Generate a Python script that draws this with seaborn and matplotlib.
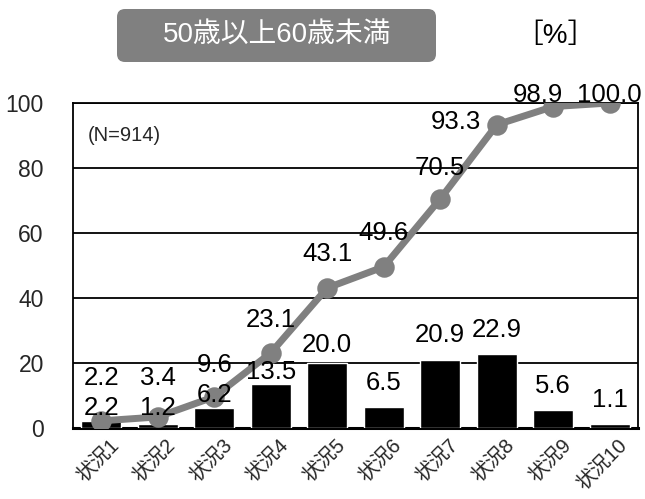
import numpy as np
import pandas as pd
import seaborn as sns
import matplotlib.pyplot as plt
from matplotlib.patches import FancyBboxPatch
from matplotlib.transforms import IdentityTransform, ScaledTranslation

# data
categories = ["状況1", "状況2", "状況3", "状況4", "状況5",
              "状況6", "状況7", "状況8", "状況9", "状況10"]
share = [2.2, 1.2, 6.2, 13.5, 20.0, 6.5, 20.9, 22.9, 5.6, 1.1]
cumulative = [2.2, 3.4, 9.6, 23.1, 43.1, 49.6, 70.5, 93.3, 98.9, 100.0]
title = "50歳以上60歳未満"
unit = "［%］"
n_note = "(N=914)"

# label offsets in pixels (dx, dy) - placed by hand in the original
bar_off = [(0, 13), (0, 16), (0, 13), (0, 12), (0, 18),
           (0, 24), (0, 25), (0, 24), (0, 24), (0, 24)]
cum_off = [(0, 43), (0, 39), (0, 32), (0, 33), (0, 34),
           (0, 34), (0, 31), (-41, 3), (-15, 12), (0, 8)]

sns.set_style("white")
plt.rcParams['font.family'] = ['Liberation Sans', 'Noto Sans CJK JP']

df = pd.DataFrame({"cat": categories, "share": share, "cum": cumulative})

fig = plt.figure(figsize=(6.45, 4.99), dpi=100)
ax = fig.add_axes([73/645, 1 - 428/499, 565/645, 325/499])

sns.barplot(data=df, x="cat", y="share", color="black", width=0.7,
            saturation=1, ax=ax, zorder=3)
sns.pointplot(data=df, x="cat", y="cum", color="#808080", markers="o",
              linewidth=5, markersize=11, ax=ax, zorder=4)

ax.set_ylim(0, 100)
ax.set_xlim(-0.5, len(categories) - 0.5)
ax.set_yticks(range(0, 101, 20))
ax.yaxis.grid(True, color="black", linewidth=1.3, zorder=0)
ax.set_axisbelow(True)
ax.set_xlabel("")
ax.set_ylabel("")
ax.tick_params(axis="y", length=0, labelsize=16.5, pad=21)
ax.tick_params(axis="x", length=0, labelsize=14.5, pad=2)
for s in ["left", "right", "top"]:
    ax.spines[s].set_visible(True)
    ax.spines[s].set_color("black")
    ax.spines[s].set_linewidth(1.3)
ax.spines["bottom"].set_color("black")
ax.spines["bottom"].set_linewidth(2.2)

for lab in ax.get_xticklabels():
    lab.set_rotation(45)
    lab.set_ha("right")
    lab.set_rotation_mode("anchor")
    lab.set_transform(lab.get_transform() + ScaledTranslation(8/100, -5/100, fig.dpi_scale_trans))

for i, v in enumerate(share):
    ax.annotate(f"{v:.1f}", (i, v), xytext=bar_off[i], textcoords="offset pixels",
                ha="center", va="center", fontsize=18.5, color="black", zorder=6)
for i, v in enumerate(cumulative):
    ax.annotate(f"{v:.1f}", (i, v), xytext=cum_off[i], textcoords="offset pixels",
                ha="center", va="center", fontsize=18.5, color="black", zorder=6,
                annotation_clip=False)

ax.text(15/565, 0.9, n_note, transform=ax.transAxes,
        fontsize=14.5, ha="left", va="center")

# title box
box = FancyBboxPatch((117, 499 - 62), 319, 53, boxstyle="round,pad=0,rounding_size=8",
                     transform=IdentityTransform(), facecolor="#808080", edgecolor="none")
fig.add_artist(box)
fig.text(277/645, 1 - 36/499, title, color="white", fontsize=20,
         ha="center", va="center")
fig.text(555/645, 1 - 36/499, unit, color="black", fontsize=20,
         ha="center", va="center")

fig.savefig("out.png", dpi=100)
